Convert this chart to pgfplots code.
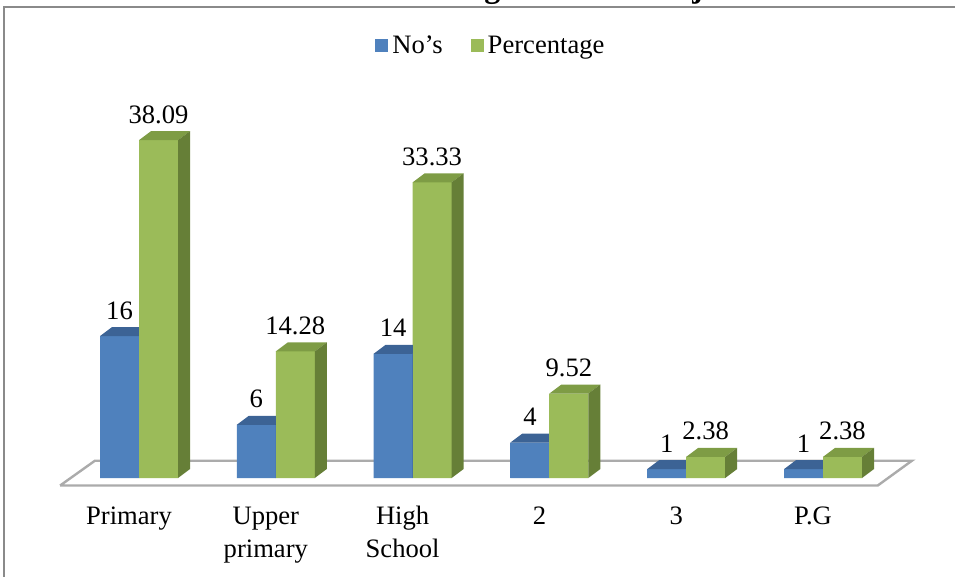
\documentclass[border=0pt]{standalone}
\usepackage{pgfplots}
\pgfplotsset{compat=1.18}
\usepackage{fontspec}
\setmainfont{Liberation Serif}
\definecolor{bluef}{HTML}{4F81BD}
\definecolor{bluet}{HTML}{3C6395}
\definecolor{blues}{HTML}{355889}
\definecolor{greenf}{HTML}{9BBB59}
\definecolor{greent}{HTML}{7E9C45}
\definecolor{greens}{HTML}{667F37}
\definecolor{floorc}{HTML}{ABABAB}
\definecolor{framec}{HTML}{8A8A8A}
\newcommand\lbl{\fontsize{13.3}{16.5}\selectfont}
\newcommand\two[2]{\begin{tabular}[t]{@{}c@{}}#1\\#2\end{tabular}}
% a 3D bar: #1 left edge, #2 right edge (relative to category centre), #3 front, #4 top, #5 side
\newcommand\prism[5]{%
  \pgfmathsetlengthmacro\hh{\rawy*4.435pt}%
  \fill[#3] (#1,0pt) rectangle (#2,-\hh);
  \fill[#4] (#1,0pt) -- ({#1+6pt},4.5pt) -- ({#2+6pt},4.5pt) -- (#2,0pt) -- cycle;
  \fill[#5] (#2,0pt) -- ({#2+6pt},4.5pt) -- ({#2+6pt},{4.5pt-\hh}) -- (#2,-\hh) -- cycle;
}
\begin{document}
\begin{tikzpicture}
\useasboundingbox (0,0) rectangle (477.5pt,-288.5pt);
\clip (0,0) rectangle (477.5pt,-288.5pt);
\node[anchor=base, font=\fontsize{16}{19}\selectfont\bfseries] at (244.5pt,1pt) {Educational level of Transgenders in Ganjam district};
\draw[framec, line width=1pt] (2pt,-295pt) -- (2pt,-3.75pt) -- (485pt,-3.75pt);
\begin{axis}[
  at={(1.1pt,-247.87pt)}, anchor=south west,
  x=68.4pt, y=4.435pt,
  xmin=-1, xmax=6, ymin=-2, ymax=46,
  clip=false,
  axis line style={draw=none},
  major tick length=0pt,
  ytick=\empty,
  xtick={0,1,2,3,4,5},
  xticklabels={Primary, \two{Upper}{primary}, \two{High}{School}, 2, 3, P.G},
  xticklabel style={font=\lbl, anchor=base, yshift=-14.6pt, xshift=-5pt},
  legend style={at={(axis cs:2.58,48.7)}, anchor=center, draw=none, fill=none,
    legend columns=2, font=\lbl,
    /tikz/every even column/.append style={column sep=12pt}},
  legend image code/.code={\fill[#1, draw=none] (0pt,-3.1pt) rectangle (6.5pt,3.4pt);},
  every node near coord/.append style={anchor=base, yshift=8.5pt, font=\lbl, text=black},
]
% floor
\addplot[draw=floorc, line width=1.2pt, fill=white, forget plot]
  coordinates {(-0.577,-0.85) (5.40,-0.85) (5.65,1.95) (-0.322,1.95) (-0.577,-0.85)};
% No's
\addplot[ybar, bar width=19.5pt, bar shift=-9.75pt, fill=bluef, draw=none,
  nodes near coords, point meta=explicit symbolic,
  every node near coord/.append style={xshift=-9.75pt}]
  coordinates {(0,16)[16] (1,6)[6] (2,14)[14] (3,4)[4] (4,1)[1] (5,1)[1]};
\addlegendentry{No’s}
% Percentage
\addplot[ybar, bar width=19.5pt, bar shift=9.75pt, fill=greenf, draw=none,
  nodes near coords, point meta=explicit symbolic,
  every node near coord/.append style={xshift=9.75pt}]
  coordinates {(0,38.09)[38.09] (1,14.28)[14.28] (2,33.33)[33.33] (3,9.52)[9.52] (4,2.38)[2.38] (5,2.38)[2.38]};
\addlegendentry{Percentage}
% 3D faces (drawn in the marker pass, blue first, then green)
\addplot[scatter, only marks, mark=*, mark size=0pt, draw=none, forget plot,
  visualization depends on={rawy \as \rawy},
  scatter/@pre marker code/.code={\prism{-19.5pt}{0pt}{bluef}{bluet}{blues}},
  scatter/@post marker code/.code={}]
  coordinates {(0,16) (1,6) (2,14) (3,4) (4,1) (5,1)};
\addplot[scatter, only marks, mark=*, mark size=0pt, draw=none, forget plot,
  visualization depends on={rawy \as \rawy},
  scatter/@pre marker code/.code={\prism{0pt}{19.5pt}{greenf}{greent}{greens}},
  scatter/@post marker code/.code={}]
  coordinates {(0,38.09) (1,14.28) (2,33.33) (3,9.52) (4,2.38) (5,2.38)};
\end{axis}
\end{tikzpicture}
\end{document}
